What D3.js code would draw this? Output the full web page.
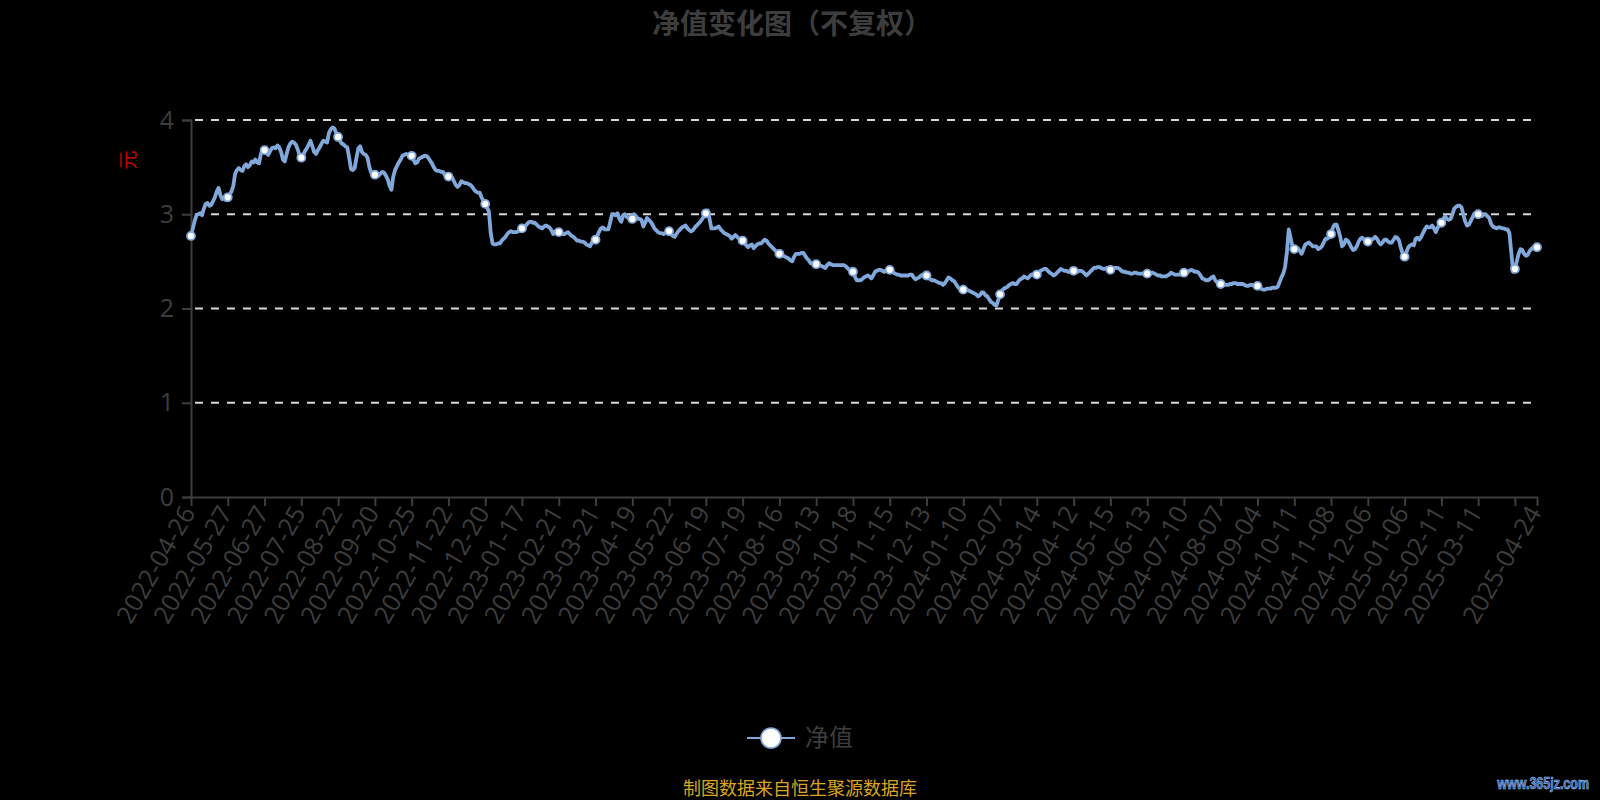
<!DOCTYPE html>
<html lang="zh-CN">
<head>
    <meta charset="UTF-8">
    <title>净值变化图（不复权）</title>
    <script src="https://d3js.org/d3.v7.min.js"></script>
    <style>
        body {
            margin: 0;
            padding: 0;
            background-color: #000;
            font-family: 'Open Sans', 'Noto Sans CJK SC', sans-serif;
        }
        svg { display: block; }
    </style>
</head>
<body>
    <script>
        // 坐标轴标签：每 20 个交易日一个刻度，最后一个为最新日期
        const tickLabels = [
            "2022-04-26", "2022-05-27", "2022-06-27", "2022-07-25", "2022-08-22", "2022-09-20",
            "2022-10-25", "2022-11-22", "2022-12-20", "2023-01-17", "2023-02-21", "2023-03-21",
            "2023-04-19", "2023-05-22", "2023-06-19", "2023-07-19", "2023-08-16", "2023-09-13",
            "2023-10-18", "2023-11-15", "2023-12-13", "2024-01-10", "2024-02-07", "2024-03-14",
            "2024-04-12", "2024-05-15", "2024-06-13", "2024-07-10", "2024-08-07", "2024-09-04",
            "2024-10-11", "2024-11-08", "2024-12-06", "2025-01-06", "2025-02-11", "2025-03-11"
        ];
        const lastLabel = "2025-04-24";
        const labelStep = 20;
        const yTicks = [0, 1, 2, 3, 4];

        // 单位净值（元），逐个交易日
        const navValues = [
            2.77, 2.85, 2.93, 2.99, 3.00, 3.01, 2.99, 3.06, 3.11, 3.12, 3.09, 3.10, 3.14, 3.18, 3.24, 3.28, 3.20, 3.16, 3.17, 3.15,
            3.18, 3.21, 3.24, 3.30, 3.43, 3.47, 3.49, 3.47, 3.46, 3.51, 3.53, 3.50, 3.52, 3.56, 3.55, 3.58, 3.55, 3.54, 3.64, 3.69,
            3.68, 3.65, 3.63, 3.67, 3.70, 3.71, 3.70, 3.73, 3.71, 3.66, 3.58, 3.56, 3.64, 3.71, 3.75, 3.77, 3.76, 3.74, 3.69, 3.63,
            3.60, 3.63, 3.67, 3.70, 3.74, 3.78, 3.72, 3.66, 3.64, 3.68, 3.71, 3.75, 3.78, 3.77, 3.76, 3.86, 3.90, 3.92, 3.91, 3.86,
            3.82, 3.78, 3.75, 3.74, 3.72, 3.71, 3.60, 3.48, 3.47, 3.49, 3.60, 3.70, 3.72, 3.66, 3.64, 3.63, 3.60, 3.50, 3.44, 3.43,
            3.42, 3.42, 3.41, 3.43, 3.45, 3.44, 3.41, 3.37, 3.30, 3.26, 3.40, 3.47, 3.51, 3.55, 3.58, 3.62, 3.63, 3.64, 3.63, 3.62,
            3.62, 3.58, 3.54, 3.55, 3.59, 3.60, 3.61, 3.62, 3.62, 3.60, 3.57, 3.54, 3.50, 3.47, 3.46, 3.46, 3.45, 3.45, 3.42, 3.41,
            3.40, 3.40, 3.39, 3.35, 3.31, 3.29, 3.31, 3.35, 3.34, 3.33, 3.33, 3.32, 3.31, 3.29, 3.26, 3.24, 3.23, 3.23, 3.18, 3.14,
            3.11, 3.07, 3.03, 2.80, 2.69, 2.68, 2.68, 2.69, 2.69, 2.72, 2.74, 2.76, 2.79, 2.81, 2.82, 2.81, 2.81, 2.81, 2.82, 2.84,
            2.85, 2.87, 2.88, 2.90, 2.92, 2.92, 2.91, 2.91, 2.89, 2.87, 2.86, 2.85, 2.87, 2.88, 2.87, 2.86, 2.83, 2.79, 2.82, 2.82,
            2.81, 2.80, 2.79, 2.79, 2.80, 2.81, 2.79, 2.77, 2.76, 2.74, 2.72, 2.72, 2.71, 2.71, 2.70, 2.68, 2.67, 2.66, 2.70, 2.72,
            2.73, 2.77, 2.82, 2.85, 2.86, 2.84, 2.84, 2.84, 2.92, 3.00, 3.00, 2.99, 3.01, 2.95, 2.92, 2.99, 3.00, 2.97, 2.96, 2.95,
            2.95, 3.00, 2.98, 2.95, 2.95, 2.94, 2.87, 2.91, 2.96, 2.94, 2.92, 2.89, 2.85, 2.83, 2.81, 2.80, 2.80, 2.79, 2.80, 2.81,
            2.82, 2.79, 2.77, 2.76, 2.79, 2.82, 2.84, 2.86, 2.87, 2.88, 2.85, 2.83, 2.82, 2.83, 2.86, 2.88, 2.90, 2.92, 2.95, 2.98,
            3.01, 3.04, 2.95, 2.85, 2.85, 2.85, 2.86, 2.87, 2.84, 2.82, 2.80, 2.79, 2.78, 2.77, 2.74, 2.76, 2.78, 2.76, 2.74, 2.73,
            2.72, 2.70, 2.67, 2.65, 2.67, 2.68, 2.64, 2.66, 2.68, 2.69, 2.69, 2.71, 2.73, 2.72, 2.69, 2.67, 2.65, 2.63, 2.61, 2.59,
            2.58, 2.57, 2.56, 2.55, 2.54, 2.53, 2.51, 2.50, 2.55, 2.58, 2.58, 2.58, 2.59, 2.59, 2.56, 2.53, 2.51, 2.48, 2.48, 2.47,
            2.47, 2.47, 2.46, 2.45, 2.44, 2.43, 2.46, 2.48, 2.47, 2.46, 2.46, 2.46, 2.46, 2.46, 2.46, 2.46, 2.45, 2.43, 2.41, 2.40,
            2.39, 2.34, 2.30, 2.30, 2.30, 2.31, 2.33, 2.34, 2.35, 2.34, 2.32, 2.35, 2.39, 2.40, 2.41, 2.41, 2.40, 2.39, 2.40, 2.41,
            2.41, 2.40, 2.38, 2.37, 2.36, 2.36, 2.35, 2.35, 2.35, 2.35, 2.35, 2.36, 2.36, 2.33, 2.31, 2.32, 2.33, 2.35, 2.36, 2.35,
            2.35, 2.33, 2.31, 2.30, 2.30, 2.29, 2.28, 2.27, 2.27, 2.25, 2.27, 2.30, 2.33, 2.32, 2.30, 2.29, 2.26, 2.23, 2.21, 2.20,
            2.20, 2.20, 2.20, 2.19, 2.18, 2.17, 2.16, 2.15, 2.13, 2.14, 2.17, 2.17, 2.14, 2.13, 2.10, 2.07, 2.06, 2.04, 2.03, 2.09,
            2.15, 2.19, 2.21, 2.22, 2.23, 2.25, 2.26, 2.27, 2.26, 2.26, 2.29, 2.31, 2.32, 2.34, 2.33, 2.32, 2.34, 2.36, 2.36, 2.36,
            2.36, 2.38, 2.40, 2.41, 2.42, 2.42, 2.40, 2.38, 2.37, 2.35, 2.36, 2.38, 2.40, 2.42, 2.41, 2.40, 2.40, 2.39, 2.39, 2.40,
            2.40, 2.39, 2.39, 2.40, 2.40, 2.39, 2.37, 2.35, 2.37, 2.39, 2.41, 2.43, 2.43, 2.44, 2.44, 2.43, 2.42, 2.42, 2.43, 2.42,
            2.41, 2.42, 2.43, 2.43, 2.43, 2.42, 2.40, 2.39, 2.39, 2.38, 2.38, 2.37, 2.37, 2.38, 2.38, 2.37, 2.37, 2.37, 2.37, 2.37,
            2.37, 2.38, 2.38, 2.38, 2.37, 2.36, 2.35, 2.35, 2.34, 2.34, 2.34, 2.35, 2.36, 2.38, 2.37, 2.36, 2.36, 2.36, 2.36, 2.37,
            2.38, 2.38, 2.39, 2.40, 2.41, 2.40, 2.39, 2.39, 2.38, 2.35, 2.32, 2.31, 2.30, 2.30, 2.31, 2.33, 2.34, 2.30, 2.28, 2.27,
            2.26, 2.25, 2.25, 2.25, 2.25, 2.26, 2.26, 2.27, 2.27, 2.26, 2.26, 2.26, 2.26, 2.25, 2.24, 2.24, 2.25, 2.25, 2.24, 2.24,
            2.24, 2.22, 2.21, 2.20, 2.20, 2.21, 2.21, 2.21, 2.22, 2.22, 2.22, 2.23, 2.28, 2.33, 2.37, 2.44, 2.60, 2.84, 2.75, 2.66,
            2.63, 2.65, 2.64, 2.61, 2.58, 2.63, 2.68, 2.69, 2.70, 2.68, 2.66, 2.66, 2.66, 2.63, 2.64, 2.66, 2.70, 2.74, 2.74, 2.76,
            2.79, 2.86, 2.89, 2.89, 2.83, 2.76, 2.66, 2.68, 2.73, 2.72, 2.69, 2.65, 2.62, 2.63, 2.66, 2.71, 2.74, 2.75, 2.73, 2.72,
            2.71, 2.72, 2.73, 2.74, 2.76, 2.74, 2.70, 2.68, 2.70, 2.73, 2.73, 2.71, 2.70, 2.70, 2.73, 2.76, 2.75, 2.72, 2.64, 2.58,
            2.55, 2.60, 2.65, 2.67, 2.68, 2.67, 2.74, 2.75, 2.73, 2.76, 2.80, 2.84, 2.87, 2.86, 2.86, 2.88, 2.85, 2.81, 2.86, 2.89,
            2.91, 2.95, 2.98, 2.95, 2.94, 2.95, 3.00, 3.06, 3.08, 3.09, 3.09, 3.07, 2.99, 2.92, 2.88, 2.89, 2.93, 2.97, 3.01, 3.01,
            3.00, 2.98, 2.98, 3.00, 3.00, 2.98, 2.96, 2.90, 2.87, 2.86, 2.85, 2.86, 2.86, 2.85, 2.85, 2.84, 2.84, 2.80, 2.60, 2.39,
            2.42, 2.50, 2.58, 2.63, 2.62, 2.58, 2.56, 2.57, 2.61, 2.63, 2.65, 2.65, 2.65
        ];

        const width = 1600;
        const height = 800;
        const margin = { top: 120, right: 63, bottom: 303, left: 191 };
        const lineColor = "#80a8da";
        const textGray = "#3d3d3d";

        const svg = d3.select("body")
            .append("svg")
            .attr("width", width)
            .attr("height", height)
            .style("background", "#000");

        // 比例尺
        const x = d3.scalePoint()
            .domain(d3.range(navValues.length))
            .range([margin.left, width - margin.right]);

        const y = d3.scaleLinear()
            .domain([0, 4])
            .range([height - margin.bottom, margin.top]);

        // 标题
        svg.append("text")
            .attr("x", 792)
            .attr("y", 34)
            .attr("text-anchor", "middle")
            .attr("font-family", "'Noto Sans CJK SC', sans-serif")
            .attr("font-size", 28)
            .attr("font-weight", "bold")
            .attr("fill", textGray)
            .text("净值变化图（不复权）");

        // 网格线
        svg.append("g")
            .selectAll("line")
            .data(yTicks.filter(d => d > 0))
            .enter()
            .append("line")
            .attr("x1", margin.left + 4)
            .attr("x2", width - margin.right)
            .attr("y1", d => y(d))
            .attr("y2", d => y(d))
            .attr("stroke", "#d8d8d8")
            .attr("stroke-width", 2)
            .attr("stroke-dasharray", "8,8");

        // y 轴
        const yAxis = svg.append("g")
            .attr("transform", `translate(${margin.left},0)`)
            .call(d3.axisLeft(y).tickValues(yTicks).tickSize(9).tickPadding(8).tickFormat(d3.format("d")));
        yAxis.select(".domain").attr("stroke", textGray).attr("stroke-width", 2);
        yAxis.selectAll(".tick line").attr("stroke", textGray).attr("stroke-width", 2);
        yAxis.selectAll(".tick text")
            .attr("fill", textGray)
            .attr("font-size", 25)
            .attr("font-family", "'Open Sans', sans-serif");

        // 单位
        svg.append("text")
            .attr("transform", "translate(130,160) rotate(-90)")
            .attr("text-anchor", "middle")
            .attr("dominant-baseline", "middle")
            .attr("font-family", "'Noto Sans CJK SC', sans-serif")
            .attr("font-size", 19)
            .attr("fill", "#cc0000")
            .text("元");

        // x 轴
        const lastIdx = navValues.length - 1;
        const tickIdx = d3.range(0, lastIdx, labelStep).concat([lastIdx]);
        const labelAt = new Map(tickLabels.map((t, k) => [k * labelStep, t]));
        labelAt.set(lastIdx, lastLabel);

        const xAxis = svg.append("g")
            .attr("transform", `translate(0,${y(0)})`)
            .call(d3.axisBottom(x).tickValues(tickIdx).tickSize(9).tickSizeOuter(0)
                .tickFormat(i => labelAt.get(i) || ""));
        xAxis.select(".domain").attr("stroke", textGray).attr("stroke-width", 2);
        xAxis.selectAll(".tick line").attr("stroke", textGray).attr("stroke-width", 2);
        xAxis.selectAll(".tick text")
            .attr("fill", textGray)
            .attr("font-size", 25)
            .attr("font-family", "'Open Sans', sans-serif")
            .attr("text-anchor", "end")
            .attr("dy", "0.35em")
            .attr("transform", "translate(0,6) rotate(-60)")
            .attr("x", -6)
            .attr("y", 0);

        // 净值曲线
        const line = d3.line()
            .x((d, i) => x(i))
            .y(d => y(d));

        svg.append("path")
            .datum(navValues)
            .attr("fill", "none")
            .attr("stroke", lineColor)
            .attr("stroke-width", 3.8)
            .attr("stroke-linejoin", "round")
            .attr("d", line);

        // 数据点标记
        svg.append("g")
            .selectAll("circle")
            .data(tickIdx)
            .enter()
            .append("circle")
            .attr("cx", i => x(i))
            .attr("cy", i => y(navValues[i]))
            .attr("r", 4)
            .attr("fill", "#fff")
            .attr("stroke", lineColor)
            .attr("stroke-width", 1.8);

        // 图例
        const legend = svg.append("g").attr("transform", "translate(771,738)");
        legend.append("line")
            .attr("x1", -24).attr("x2", 24)
            .attr("stroke", lineColor)
            .attr("stroke-width", 2);
        legend.append("circle")
            .attr("r", 10)
            .attr("fill", "#fff")
            .attr("stroke", lineColor)
            .attr("stroke-width", 1.6);
        legend.append("text")
            .attr("x", 34)
            .attr("dy", "0.35em")
            .attr("font-family", "'Noto Sans CJK SC', sans-serif")
            .attr("font-size", 24)
            .attr("fill", textGray)
            .text("净值");

        // 数据来源
        svg.append("text")
            .attr("x", 800)
            .attr("y", 795)
            .attr("text-anchor", "middle")
            .attr("font-family", "'Noto Sans CJK SC', sans-serif")
            .attr("font-size", 18)
            .attr("fill", "#daa520")
            .text("制图数据来自恒生聚源数据库");

        // 水印
        svg.append("text")
            .attr("transform", "translate(1589,789) scale(0.78,1)")
            .attr("text-anchor", "end")
            .attr("font-family", "'Liberation Sans', sans-serif")
            .attr("font-size", 16)
            .attr("font-weight", "bold")
            .attr("fill", "#2c5ea8")
            .attr("stroke", "#a9c8f0")
            .attr("stroke-width", 0.6)
            .text("www.365jz.com");
    </script>
</body>
</html>
